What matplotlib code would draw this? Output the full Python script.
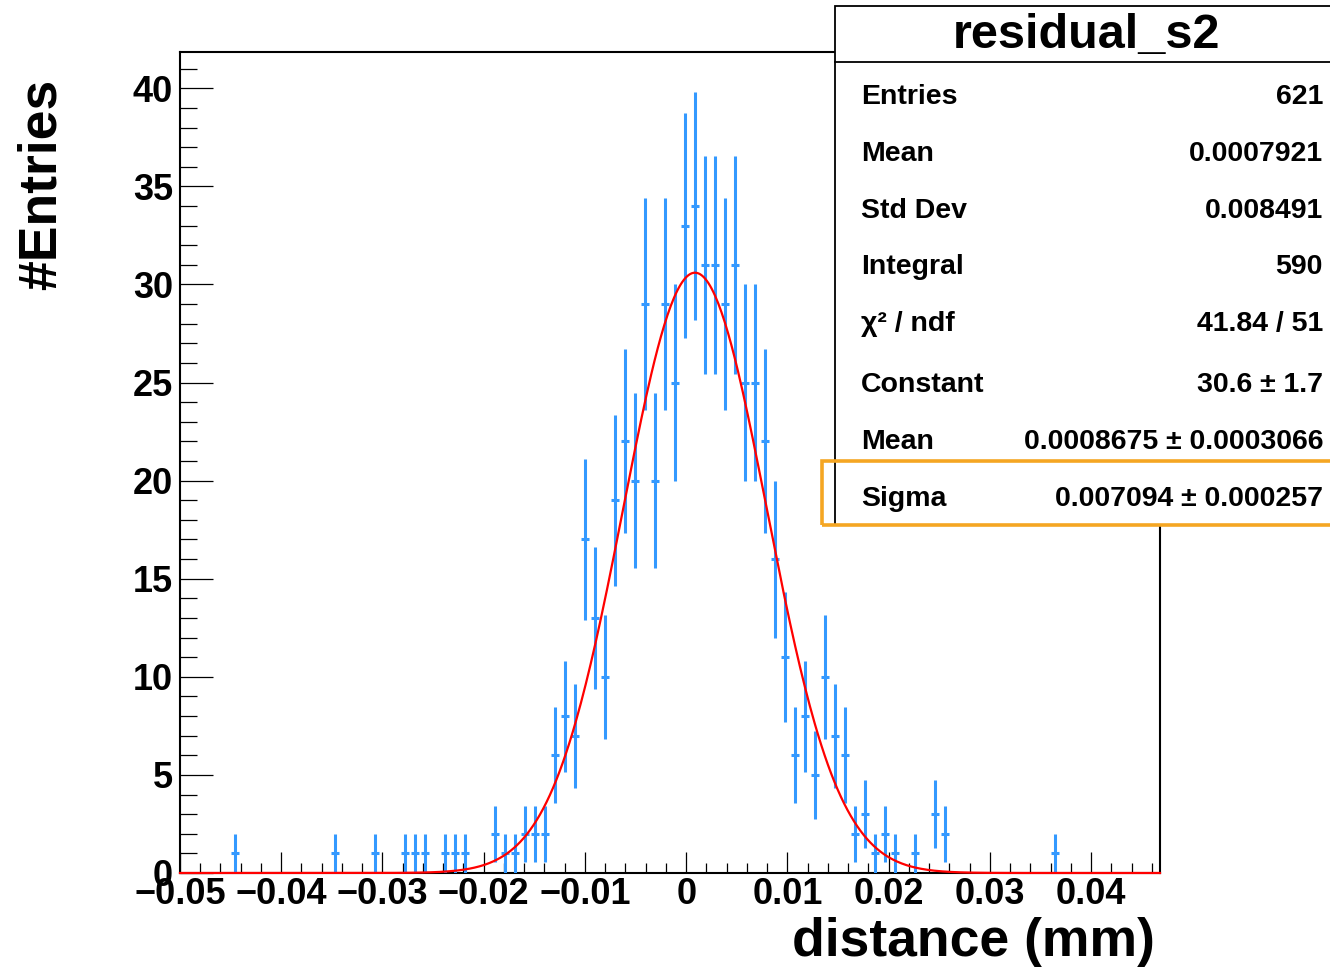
import numpy as np
import matplotlib
matplotlib.use("Agg")
import matplotlib.pyplot as plt
from matplotlib.patches import Rectangle
from matplotlib.lines import Line2D
from matplotlib.ticker import MultipleLocator

# ---------------- data ----------------
x_min, x_max = -0.05, 0.0468
n_bins = 98
counts = [
    0, 0, 0, 0, 0, 1, 0, 0, 0, 0,
    0, 0, 0, 0, 0, 1, 0, 0, 0, 1,
    0, 0, 1, 1, 1, 0, 1, 1, 1, 0,
    0, 2, 1, 1, 2, 2, 2, 6, 8, 7,
    17, 13, 10, 19, 22, 20, 29, 20, 29, 25,
    33, 34, 31, 31, 29, 31, 25, 25, 22, 16,
    11, 6, 8, 5, 10, 7, 6, 2, 3, 1,
    2, 1, 0, 1, 0, 3, 2, 0, 0, 0,
    0, 0, 0, 0, 0, 0, 0, 1, 0, 0,
    0, 0, 0, 0, 0, 0, 0, 0,
]
fit_constant = 30.6
fit_mean = 0.0008675
fit_sigma = 0.007094

stat_labels = ["Entries", "Mean", "Std Dev", "Integral", "\u03c7\u00b2 / ndf",
               "Constant", "Mean", "Sigma"]
stat_values = ["621", "0.0007921", "0.008491", "590", "41.84 / 51",
               "30.6 \u00b1 1.7", "0.0008675 \u00b1 0.0003066",
               "0.007094 \u00b1 0.000257"]
hist_title = "residual_s2"
x_title = "distance (mm)"
y_title = "#Entries"

# ---------------- figure ----------------
W, H = 1330, 967
fig = plt.figure(figsize=(W / 100, H / 100), dpi=100)
plt.rcParams['font.family'] = ['Liberation Sans', 'DejaVu Sans']

def fx(px):
    return px / W

def fy(py):
    return 1 - py / H

ax = fig.add_axes([fx(180), fy(873), fx(1160) - fx(180), fy(52) - fy(873)])

edges = np.linspace(x_min, x_max, n_bins + 1)
centers = 0.5 * (edges[:-1] + edges[1:])
width = edges[1] - edges[0]
cnt = np.array(counts, dtype=float)
mask = cnt > 0

blue = "#3399ff"
ax.errorbar(centers[mask], cnt[mask], yerr=np.sqrt(cnt[mask]),
            xerr=0.4 * width, fmt='none', ecolor=blue, elinewidth=2.2,
            capsize=0, zorder=3)

xf = np.linspace(x_min, x_max, 600)
yf = fit_constant * np.exp(-0.5 * ((xf - fit_mean) / fit_sigma) ** 2)
ax.plot(xf, yf, color='red', lw=1.6, zorder=4, clip_on=False)

ax.set_xlim(x_min, x_max)
ax.set_ylim(0, 41.85)

ax.xaxis.set_major_locator(MultipleLocator(0.01))
ax.xaxis.set_minor_locator(MultipleLocator(0.002))
ax.yaxis.set_major_locator(MultipleLocator(5))
ax.yaxis.set_minor_locator(MultipleLocator(1))

ax.tick_params(axis='both', which='both', direction='in', top=False, right=False,
               width=0.9, colors='black')
ax.tick_params(axis='y', which='major', length=24, pad=5)
ax.tick_params(axis='y', which='minor', length=12)
ax.tick_params(axis='x', which='major', length=15, pad=3)
ax.tick_params(axis='x', which='minor', length=7.5)

def xfmt(v, pos):
    if abs(v) < 1e-12:
        return "0"
    s = "%.2f" % v
    return s.replace("-", "\u2212")

ax.xaxis.set_major_formatter(plt.FuncFormatter(xfmt))
ax.yaxis.set_major_formatter(plt.FuncFormatter(lambda v, p: "%d" % round(v)))

for lab in ax.get_xticklabels() + ax.get_yticklabels():
    lab.set_fontweight('bold')
    lab.set_fontsize(26)

for sp in ax.spines.values():
    sp.set_linewidth(1.5)

# axis titles
fig.text(fx(1155), fy(942), x_title, ha='right', va='center',
         fontsize=38.5, fontweight='bold')
fig.text(fx(42), fy(79), y_title, ha='center', va='top', rotation=90,
         fontsize=38.5, fontweight='bold')

# ---------------- stats box ----------------
box_l, box_t, box_r, box_b = 835, 6, 1345, 525
fig.add_artist(Rectangle((fx(box_l), fy(box_b)), fx(box_r) - fx(box_l),
                         fy(box_t) - fy(box_b), transform=fig.transFigure,
                         facecolor='white', edgecolor='black', lw=1.3,
                         zorder=5))
fig.add_artist(Line2D([fx(box_l), fx(box_r)], [fy(62), fy(62)],
                      transform=fig.transFigure, color='black', lw=1.3,
                      zorder=6))
fig.text(fx(1087), fy(36), hist_title, ha='center', va='center',
         fontsize=35, fontweight='bold', zorder=7)

row_y = [97, 154, 211, 267, 324, 385, 442, 499]
for lab, val, yy in zip(stat_labels, stat_values, row_y):
    fig.text(fx(861), fy(yy), lab, ha='left', va='center', fontsize=20.5,
             fontweight='bold', zorder=7)
    fig.text(fx(1323), fy(yy), val, ha='right', va='center', fontsize=20.5,
             fontweight='bold', zorder=7)

# orange highlight
fig.add_artist(Rectangle((fx(822), fy(525)), fx(1345) - fx(822),
                         fy(461) - fy(525), transform=fig.transFigure,
                         facecolor='none', edgecolor='#f5a623', lw=2.6,
                         zorder=8))

fig.savefig("out.png", dpi=100, facecolor='white')
